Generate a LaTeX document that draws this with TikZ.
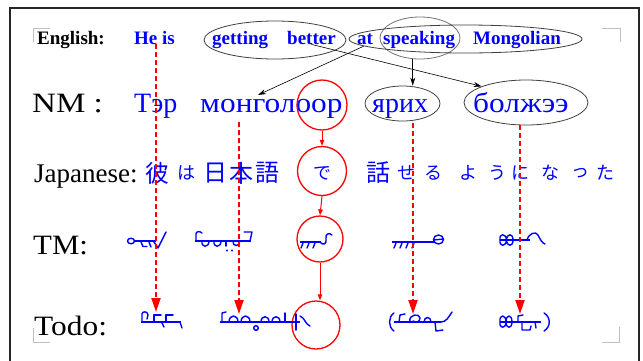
\documentclass[tikz,border=0pt]{standalone}
\usepackage{fontspec}
\setmainfont{Liberation Serif}
\newfontfamily\jafont{Noto Sans CJK JP}
\usetikzlibrary{arrows.meta,shapes.geometric}
\begin{document}
\begin{tikzpicture}[x=1pt,y=-1pt,
  en/.style={text=blue, font=\fontsize{19}{21}\selectfont\bfseries, inner sep=0pt, anchor=base west},
  lab/.style={font=\fontsize{28}{30}\selectfont, inner sep=0pt, anchor=base west},
  cy/.style={lab, text=blue},
  ell/.style={draw=black!75, ellipse, inner sep=0pt, line width=0.8pt},
  rc/.style={draw=red, circle, line width=1.3pt, inner sep=0pt},
  ja/.style={text=blue, font=\jafont\fontsize{24}{26}\selectfont, inner sep=0pt},
  jk/.style={text=blue, font=\jafont\fontsize{18}{20}\selectfont, inner sep=0pt},
  bl/.style={-{Stealth[length=8pt,width=5pt]}, line width=0.6pt, black},
  rs/.style={red, line width=1pt, -{Triangle[length=6pt,width=4.5pt]}},
  rd/.style={red, line width=2pt, dash pattern=on 5pt off 3pt, -{Triangle[length=14pt,width=9pt]}},
  mg/.style={blue, line width=1.4pt, line cap=round, line join=round},
  ms/.style={blue, line width=2.8pt},
  crn/.style={black!25, line width=0.8pt}]
\useasboundingbox (0,0) rectangle (643,360);
\fill[white] (0,0) rectangle (643,360);
% frame
\draw[line width=1.2pt, black!85] (10,362) -- (10,8) -- (639,8) -- (639,362);
% corner marks
\draw[crn] (33,42) -- (33,28) -- (50,28);
\draw[crn] (602,28) -- (620,28) -- (620,42);
\draw[crn] (33,328) -- (33,342) -- (50,342);
\draw[crn] (602,342) -- (619,342) -- (619,327);

% ellipses of the English row
\node[ell, minimum width=142pt, minimum height=38pt] (e1) at (275,40) {};
\node[ell, draw=black!55, minimum width=80pt, minimum height=42pt] (e2) at (420,38) {};
\node[ell, minimum width=233pt, minimum height=28pt] (e3) at (465.5,39) {};

% English row
\node[en, text=black] (eng) at (37,44) {English:};
\node[en] (heis) at (134,44) {He is};
\node[en] (getting) at (212,44) {getting};
\node[en] (better) at (287,44) {better};
\node[en] (at) at (357,44) {at};
\node[en] (speaking) at (383,44) {speaking};
\node[en] (mongolian) at (473,44) {Mongolian};

% NM row
\node[lab, xscale=1.18] (nm) at (32,112) {NM :};
\node[cy] (ter) at (134,112) {Тэр};
\node[cy, xscale=1.12] (mongol) at (200,112) {монголоор};
\node[cy] (yarikh) at (372,112) {ярих};
\node[cy, xscale=1.12] (bolzh) at (473,112) {болжээ};
\node[ell, minimum width=75pt, minimum height=35pt] (yar) at (402.5,103.5) {};
\node[ell, minimum width=124pt, minimum height=45pt] (bol) at (526,102.5) {};

% Japanese row
\node[lab, font=\fontsize{27}{29}\selectfont] (jp) at (34,182) {Japanese:};
\foreach \c/\x/\n in {彼/157/ka, 日/215/ni, 本/241/ho, 語/267/go, 話/378/wa}
  \node[ja] (j\n) at (\x,173) {\c};
\foreach \c/\x/\n in {は/186/ha, で/322/de, せ/406/se, る/433/ru, よ/468/yo, う/497/u, に/520/nn, な/550/na, っ/580/tt, た/605/ta}
  \node[jk] (j\n) at (\x,173) {\c};

% TM and Todo labels
\node[lab, xscale=1.1] (tm) at (33,254) {TM:};
\node[lab, xscale=1.12] (todo) at (34,335) {Todo:};

% red circles
\node[rc, minimum size=50pt] (c1) at (322,105) {};
\node[rc, minimum size=49pt] (c2) at (322,171) {};
\node[rc, minimum size=46pt] (c3) at (320,239) {};
\node[rc, minimum size=48pt] (c4) at (316,325) {};

% ---- TM glyphs (Mongolian script, drawn) ----
% TM1
\draw[mg] (131,241) ellipse (3.5 and 2.8);
\draw[ms] (134,241) -- (156,241);
\draw[mg] (141,242) -- (143,246.5) -- (147,246.5);
\draw[mg] (149,242) -- (151,247);
\draw[mg] (154,242) -- (158,248) -- (166,232);
% TM2
\draw[mg] (196,241) -- (196,234) .. controls (196,231) and (200,231) .. (202,233);
\draw[ms] (195,241) -- (251,241);
\draw[mg] (202,241) .. controls (201,248) and (209,248) .. (209,241);
\draw[mg] (214,241) .. controls (213,248) and (221,248) .. (221,241);
\draw[mg] (226,241) -- (226,246);
\draw[mg] (233,241) .. controls (232,247) and (240,247) .. (240,241);
\fill[blue] (227,250.5) circle (1.1) (232,250.5) circle (1.1);
\draw[mg] (244,232) -- (252,232) -- (250,241);
% TM3
\draw[ms] (300,242) -- (321,242);
\draw[mg] (303,243) -- (301,248) (309,243) -- (307,248) (315,243) -- (313,248);
\draw[mg] (320,242) .. controls (323,246) and (327,244) .. (326,239) .. controls (325,234) and (329,232) .. (332,235);
% TM4
\draw[ms] (392,242) -- (434,242);
\foreach \x in {395,401,407,413} \draw[mg] (\x+1,243) -- (\x-1,248);
\draw[mg] (438.5,239.5) ellipse (5 and 4.5);
\draw[mg] (433.5,240) -- (443.5,239);
% TM5
\draw[ms] (500,240) -- (530,240);
\draw[mg] (500,240) .. controls (499,233) and (506,233) .. (506.5,240) .. controls (507,233) and (513,233) .. (513,240);
\draw[mg] (500,240) .. controls (499,247) and (506,247) .. (506.5,240) .. controls (507,247) and (513,247) .. (513,240);
\draw[mg] (527,240) .. controls (529,233) and (536,231) .. (538,235) .. controls (540,239) and (542,243) .. (545,244);

% ---- Todo glyphs (drawn) ----
% Todo1
\draw[mg] (142,322) -- (142,314) .. controls (142,311) and (148,311) .. (148,315) -- (147,319);
\draw[ms] (141,322) -- (181,322);
\draw[mg] (161,315) -- (154,315) -- (154,322);
\draw[mg] (173,315) -- (166,315) -- (166,322);
\draw[mg] (162,323) -- (164,327) (180,322) -- (182,328);
% Todo2
\draw[mg] (226,312) -- (222,313) -- (222,322);
\draw[ms] (220,322) -- (300,322);
\draw[mg] (229,322) .. controls (229,314) and (238,314) .. (238,322);
\draw[mg] (241,322) .. controls (241,314) and (250,314) .. (250,322);
\draw[mg] (256,328) circle (2.3);
\draw[mg] (261,322) .. controls (261,315) and (269,315) .. (269,322);
\draw[mg] (272,322) .. controls (272,315) and (280,315) .. (280,322);
\draw[mg] (285,322) -- (285,313);
\draw[mg] (296,314) -- (296,330);
\draw[mg] (300,316) .. controls (305,318) and (305,324) .. (310,326);
% Todo3
\draw[mg] (394,313) .. controls (388,317) and (388,327) .. (394,331);
\draw[ms] (394,322) -- (441,322);
\draw[mg] (399,322) -- (400,315) -- (405,314);
\draw[mg] (410,322) .. controls (408,314) and (420,313) .. (420,318) .. controls (420,322) and (416,323) .. (413,321);
\draw[mg] (424,322) .. controls (424,316) and (431,316) .. (431,322);
\draw[mg] (435,322) -- (436,331) -- (443,330);
\draw[mg] (441,322) .. controls (446,322) and (448,318) .. (452,312);
% Todo4
\draw[ms] (500,322) -- (541,322);
\draw[mg] (500,322) .. controls (499,314) and (506,314) .. (506,322) .. controls (506,314) and (512,314) .. (512,322);
\draw[mg] (500,322) .. controls (499,329) and (506,329) .. (506,322) .. controls (506,329) and (512,329) .. (512,322);
\draw[mg] (518,322) -- (518,316) -- (523,315);
\draw[mg] (522,322) -- (522,330) -- (530,330) -- (531,326);
\draw[mg] (535,322) -- (536,328);
\draw[mg] (544,313) .. controls (551,317) and (551,327) .. (544,331);

% black arrows
\coordinate (mtop) at (258,95);
\draw[bl] (e3.184.8) -- (mtop);
\draw[bl] (better.south) -- (bol.160);
\draw[bl] (e2.-109) -- (e2.-109 |- yar.north);

% red solid arrows
\draw[rs] (c1.south) -- (c2.north);
\draw[rs] (c2.south) -- (c3.north);
\draw[rs] (c3.south) -- (c3.south |- c4.north);

% red dashed arrows
\coordinate (da1) at (156,44);  \coordinate (da2) at (156,312);
\coordinate (db1) at (239,122); \coordinate (db2) at (239,314);
\coordinate (dc1) at (413,123); \coordinate (dc2) at (413,314);
\coordinate (dd1) at (520,125); \coordinate (dd2) at (520,314);
\draw[rd] (da1) -- (da2);
\draw[rd] (db1) -- (db2);
\draw[rd] (dc1) -- (dc2);
\draw[rd] (dd1) -- (dd2);
\end{tikzpicture}
\end{document}
